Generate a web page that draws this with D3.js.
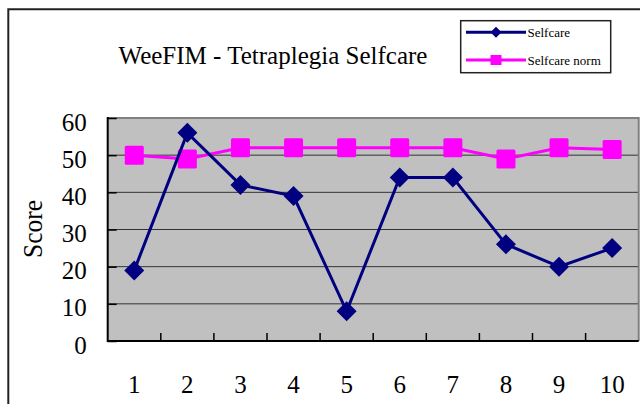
<!DOCTYPE html>
<html><head><meta charset="utf-8">
<script src="https://cdn.jsdelivr.net/npm/d3@7"></script>
<style>
html,body{margin:0;padding:0;background:#fff;}
svg{display:block;}
text{font-family:"Liberation Serif","Times New Roman",serif;fill:#000;}
</style></head>
<body>
<svg id="chart" width="640" height="404"></svg>
<script>
const categories = [1,2,3,4,5,6,7,8,9,10];
const selfcare = [19,56,42,39,8,44,44,26,20,25];
const selfcareNorm = [50,49,52,52,52,52,52,49,52,51.5];
const yTicks = [0,10,20,30,40,50,60];
const seriesNames = ["Selfcare","Selfcare norm"];
const titleText = "WeeFIM - Tetraplegia Selfcare";
const yLabel = "Score";

const svg = d3.select("#chart");
// outer frame
svg.append("path").attr("d","M8.3,404 V9.3 H640").attr("fill","none").attr("stroke","#222").attr("stroke-width",2);

const L=107.7,R=638.7,T=118,B=341;
const x = d3.scaleBand().domain(categories).range([L,R]).padding(0);
const y = d3.scaleLinear().domain([0,60]).range([B,T]);
const cx = d => x(d)+x.bandwidth()/2;

// plot bg
svg.append("rect").attr("x",L).attr("y",T).attr("width",R-L).attr("height",B-T).attr("fill","#c0c0c0");
// gridlines
svg.append("g").selectAll("line").data(yTicks.filter(v=>v>0)).join("line")
  .attr("x1",L).attr("x2",R).attr("y1",d=>y(d)).attr("y2",d=>y(d))
  .attr("stroke","#333").attr("stroke-width",1);
// top/right border
svg.append("path").attr("d",`M${L},${T} H${R} V${B}`).attr("fill","none").attr("stroke","#808080").attr("stroke-width",2);

// y axis
const yAxis = svg.append("g").attr("transform",`translate(${L},0)`)
  .call(d3.axisLeft(y).tickValues(yTicks).tickSize(-9).tickPadding(21));
yAxis.select(".domain").remove();
yAxis.selectAll(".tick line").attr("stroke","#000").attr("stroke-width",1.5);
yAxis.selectAll(".tick text").attr("font-size",25).attr("font-family","Liberation Serif").attr("dy","0.48em").attr("fill","#000");

// x boundary ticks
const bounds = categories.slice(1).map(c=>x(c));
svg.append("g").selectAll("line").data(bounds).join("line")
  .attr("x1",d=>d).attr("x2",d=>d).attr("y1",B).attr("y2",B-8)
  .attr("stroke","#000").attr("stroke-width",1.5);
// x labels
const xAxis = svg.append("g").attr("transform",`translate(0,${B})`)
  .call(d3.axisBottom(x).tickSize(0).tickPadding(34));
xAxis.select(".domain").remove();
xAxis.selectAll(".tick text").attr("font-size",25).attr("font-family","Liberation Serif").attr("fill","#000");

// axis lines
svg.append("path").attr("d",`M${L},${T-1} V${B} H${R}`).attr("fill","none").attr("stroke","#000").attr("stroke-width",2);

// lines
const line = d3.line().x((d,i)=>cx(categories[i])).y(d=>y(d));
svg.append("path").datum(selfcareNorm).attr("d",line).attr("fill","none").attr("stroke","#ff00ff").attr("stroke-width",3);
svg.append("g").selectAll("rect").data(selfcareNorm).join("rect")
  .attr("x",(d,i)=>cx(categories[i])-9.5).attr("y",d=>y(d)-9.5).attr("width",19).attr("height",19).attr("rx",1.5)
  .attr("fill","#ff00ff");
svg.append("path").datum(selfcare).attr("d",line).attr("fill","none").attr("stroke","#000080").attr("stroke-width",3);
const diamond = (px,py,r)=>`M${px},${py-r} L${px+r},${py} L${px},${py+r} L${px-r},${py} Z`;
svg.append("g").selectAll("path").data(selfcare).join("path")
  .attr("d",(d,i)=>diamond(cx(categories[i]),y(d),10)).attr("fill","#000080");

// y label
svg.append("text").attr("transform","translate(42,229) rotate(-90)").attr("text-anchor","middle")
  .attr("font-size",27).attr("textLength",58).attr("lengthAdjust","spacingAndGlyphs").text(yLabel);

// title
svg.append("text").attr("x",273).attr("y",64).attr("text-anchor","middle").attr("font-size",25).text(titleText);

// legend
const lg = svg.append("g");
lg.append("rect").attr("x",460.7).attr("y",20.7).attr("width",150).attr("height",52).attr("fill","#fff").attr("stroke","#222").attr("stroke-width",1.5);
const ly = [32.3,60];
lg.append("line").attr("x1",466).attr("x2",526).attr("y1",ly[0]).attr("y2",ly[0]).attr("stroke","#000080").attr("stroke-width",3);
lg.append("path").attr("d",diamond(496,ly[0],5.5)).attr("fill","#000080");
lg.append("line").attr("x1",466).attr("x2",526).attr("y1",ly[1]).attr("y2",ly[1]).attr("stroke","#ff00ff").attr("stroke-width",3);
lg.append("rect").attr("x",490.5).attr("y",ly[1]-5).attr("width",11).attr("height",10).attr("fill","#ff00ff");
lg.selectAll("text.l").data(seriesNames).join("text").attr("class","l")
  .attr("x",527.5).attr("y",(d,i)=>ly[i]+4.5).attr("font-size",13).attr("fill","#333").text(d=>d);
</script>
</body></html>
